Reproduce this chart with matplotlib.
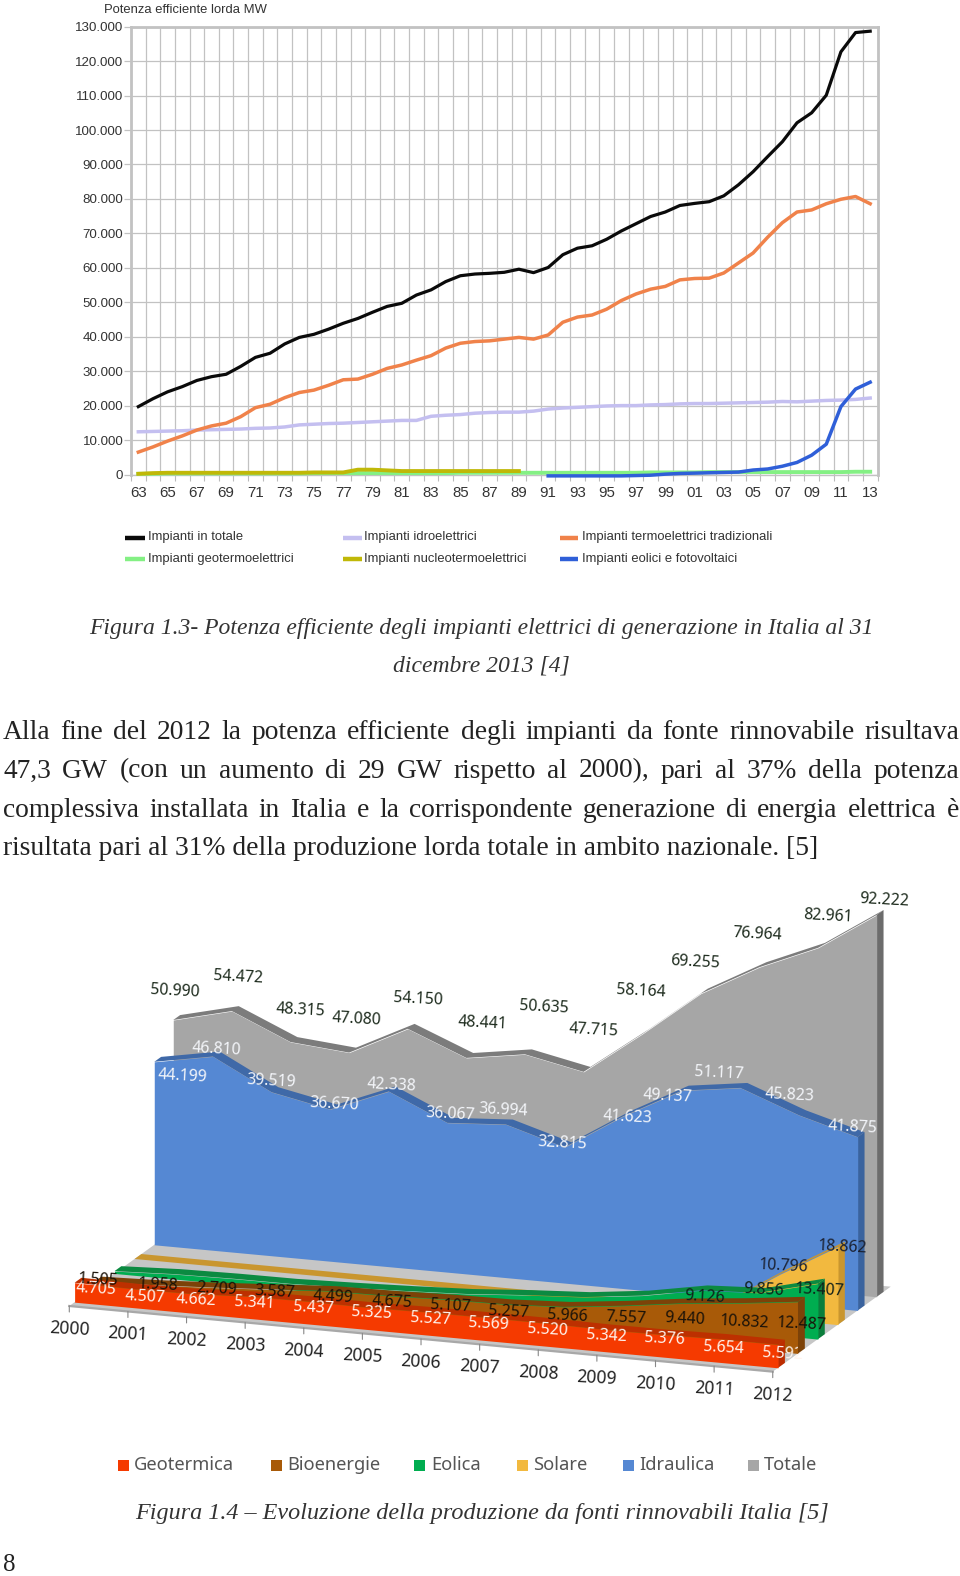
import numpy as np
import matplotlib
matplotlib.use("Agg")
import matplotlib.pyplot as plt
from matplotlib.ticker import FuncFormatter
from matplotlib.transforms import Affine2D

W, H = 960, 1576

# --- first chart: installed capacity, thousands of MW, 1963-2013
cap_years = [f"{y % 100:02d}" for y in range(1963, 2014)]
cap_total = [19.7, 22, 24, 25.5, 27.3, 28.4, 29.1, 31.4, 34, 35.2,
             37.9, 39.8, 40.7, 42.2, 43.9, 45.3, 47.1, 48.8, 49.7, 52.1,
             53.6, 56, 57.7, 58.2, 58.4, 58.7, 59.6, 58.6, 60.1, 63.8,
             65.7, 66.4, 68.3, 70.7, 72.8, 74.9, 76.2, 78.1, 78.7, 79.2,
             80.9, 84.1, 87.9, 92.3, 96.6, 102.1, 105, 110.1, 122.7, 128.3, 128.7]
cap_thermo = [6.5, 8, 9.7, 11.2, 12.9, 14.1, 14.9, 16.8, 19.4, 20.4,
              22.3, 23.8, 24.5, 25.9, 27.5, 27.7, 29.1, 30.8, 31.8, 33.2,
              34.5, 36.7, 38.1, 38.6, 38.8, 39.3, 39.8, 39.3, 40.5, 44.2,
              45.7, 46.3, 48, 50.5, 52.4, 53.8, 54.6, 56.5, 56.9, 57,
              58.5, 61.4, 64.3, 68.9, 73.1, 76.2, 76.8, 78.6, 79.9, 80.7, 78.6]
cap_hydro = [12.4, 12.5, 12.6, 12.7, 12.9, 13, 13.1, 13.2, 13.4, 13.5,
             13.8, 14.4, 14.6, 14.8, 14.9, 15.1, 15.3, 15.5, 15.7, 15.7,
             16.9, 17.2, 17.4, 17.8, 18, 18.1, 18.1, 18.4, 19, 19.3,
             19.5, 19.7, 19.9, 20, 20, 20.2, 20.3, 20.5, 20.6, 20.6,
             20.7, 20.8, 20.9, 21, 21.2, 21.1, 21.3, 21.5, 21.6, 21.8, 22.2]
cap_geo = [0.2, 0.2, 0.3, 0.3, 0.3, 0.3, 0.3, 0.3, 0.3, 0.3,
           0.3, 0.3, 0.4, 0.4, 0.4, 0.4, 0.4, 0.4, 0.4, 0.4,
           0.4, 0.4, 0.5, 0.5, 0.5, 0.5, 0.5, 0.5, 0.5, 0.5,
           0.5, 0.5, 0.5, 0.5, 0.5, 0.6, 0.6, 0.6, 0.6, 0.7,
           0.7, 0.7, 0.7, 0.7, 0.7, 0.7, 0.7, 0.7, 0.7, 0.8, 0.8]
cap_nuclear = [0.2, 0.4, 0.5, 0.5, 0.5, 0.5, 0.5, 0.5, 0.5, 0.5,
               0.5, 0.5, 0.6, 0.6, 0.6, 1.4, 1.4, 1.2, 1.0, 1.0,
               1.0, 1.0, 1.0, 1.0, 1.0, 1.0, 1.0] + [np.nan] * 24
cap_wind = [np.nan] * 28 + [-0.4, -0.4, -0.4, -0.4, -0.4, -0.4, -0.3, -0.2,
                            0.1, 0.3, 0.4, 0.5, 0.6, 0.7, 1.3, 1.6, 2.4, 3.5,
                            5.6, 8.8, 19.7, 24.8, 26.8]

# --- second chart: renewable production, thousands, 2000-2012
ren_years = list(range(2000, 2013))
ren_geo = [4.705, 4.507, 4.662, 5.341, 5.437, 5.325, 5.527, 5.569, 5.520, 5.342, 5.376, 5.654, 5.592]
ren_bio = [1.505, 1.958, 2.709, 3.587, 4.499, 4.675, 5.107, 5.257, 5.966, 7.557, 9.440, 10.832, 12.487]
ren_wind = [0.563, 1.179, 1.404, 1.458, 1.847, 2.343, 2.971, 4.034, 4.861, 6.543, 9.126, 9.856, 13.407]
ren_solar = [0.006, 0.005, 0.004, 0.005, 0.004, 0.004, 0.002, 0.039, 0.193, 0.676, 1.906, 10.796, 18.862]
ren_hydro = [44.199, 46.810, 39.519, 36.670, 42.338, 36.067, 36.994, 32.815, 41.623, 49.137, 51.117, 45.823, 41.875]
ren_total = [50.990, 54.472, 48.315, 47.080, 54.150, 48.441, 50.635, 47.715, 58.164, 69.255, 76.964, 82.961, 92.222]

# label nudges in pixels from each point (dx, dy down)
off_geo = [(22, 5), (12, 7), (4, 5), (4, 6), (4, 6), (4, 5), (4, 6), (3, 6), (4, 6), (4, 6), (4, 3), (4, 8), (4, 8)]
off_bio = [(4, -3), (5, -1), (5, 1), (4, 2), (4, 5), (4, 5), (4, 6), (4, 7), (4, 8), (4, 11), (4, 15), (5, 18), (4, 22)]
off_wind = [(0, 0)] * 10 + [(4, 6), (4, -4), (2, 6)]
off_solar = [(0, 0)] * 11 + [(4, -9), (4, 0)]
off_hydro = [(28, 13), (4, -8), (0, -12), (4, -6), (3, -7), (3, -10), (-3, -15), (-2, -5), (4, 0), (-14, 5), (-22, -16), (-9, -21), (-5, -11)]
off_total = [(2, -30), (6, -35), (10, -33), (7, -34), (10, -31), (16, -36), (19, -48), (10, -43), (-1, -44), (-6, -32), (-2, -34), (10, -33), (8, -16)]

body_lines = ["Alla fine del 2012 la potenza efficiente degli impianti da fonte rinnovabile risultava",
              "47,3 GW (con un aumento di 29 GW rispetto al 2000), pari al 37% della potenza",
              "complessiva installata in Italia e la corrispondente generazione di energia elettrica è"]
body_last = "risultata pari al 31% della produzione lorda totale in ambito nazionale. [5]"

fig = plt.figure(figsize=(W / 100, H / 100), dpi=100)

# whole page in pixel coordinates, y going down
page = fig.add_axes([0, 0, 1, 1])
page.set_xlim(0, W)
page.set_ylim(H, 0)
page.axis("off")

# --- line chart
left, right, top, bottom = 131, 877.5, 26.7, 474.5
ax = fig.add_axes([left / W, 1 - bottom / H, (right - left) / W, (bottom - top) / H])
ax.patch.set_alpha(0)
x = np.arange(len(cap_years))
ax.plot(x, cap_total, color="#0a0a0a", lw=2.3, zorder=5)
ax.plot(x, cap_hydro, color="#c4bff0", lw=2.5, zorder=3)
ax.plot(x, cap_thermo, color="#f0824a", lw=2.5, zorder=4)
ax.plot(x, cap_geo, color="#84f084", lw=2.8, zorder=3, clip_on=False)
ax.plot(x, cap_nuclear, color="#c0b808", lw=2.8, zorder=4, clip_on=False)
ax.plot(x, cap_wind, color="#2f5fd8", lw=2.5, zorder=6, clip_on=False)
ax.set_xlim(-0.5, 50.5)
ax.set_ylim(0, 130)
ax.set_yticks(range(0, 131, 10))
ax.yaxis.set_major_formatter(FuncFormatter(lambda v, p: "0" if v == 0 else f"{v:.3f}"))
ax.set_xticks(x[::2])
ax.set_xticklabels(cap_years[::2])
ax.set_xticks(np.arange(-0.5, 51, 1), minor=True)
ax.grid(which="minor", axis="x", color="#c2c2c2", lw=0.9)
ax.grid(which="major", axis="y", color="#c2c2c2", lw=0.9)
ax.set_axisbelow(True)
ax.tick_params(axis="x", which="major", length=0, pad=8.5, labelsize=10.8, labelcolor="#333333")
ax.tick_params(axis="x", which="minor", length=4, width=0.8, color="#bbbbbb")
ax.tick_params(axis="y", length=5, width=0.9, color="#c2c2c2", pad=0.5, labelsize=9.6, labelcolor="#333333")
for lab in ax.get_xticklabels() + ax.get_yticklabels():
    lab.set_fontfamily("Liberation Sans")
for name, sp in ax.spines.items():
    sp.set_color("#c2c2c2")
    sp.set_linewidth(2.0 if name != "bottom" else 1.0)

page.text(104, 9.5, "Potenza efficiente lorda MW", family="Liberation Sans", fontsize=9.4,
          color="#333333", va="center")

legend_rows = [(125, 145, 147.5, 537.5, "#0a0a0a", "Impianti in totale"),
               (343, 361.5, 364, 537.5, "#c4bff0", "Impianti idroelettrici"),
               (560, 578, 581.5, 537.5, "#f0824a", "Impianti termoelettrici tradizionali"),
               (125, 145, 147.5, 559, "#84f084", "Impianti geotermoelettrici"),
               (343, 361.5, 364, 559, "#c0b808", "Impianti nucleotermoelettrici"),
               (560, 578, 581.5, 559, "#2f5fd8", "Impianti eolici e fotovoltaici")]
for x0, x1, xt, y, col, name in legend_rows:
    page.plot([x0, x1], [y, y], color=col, lw=3.2, solid_capstyle="butt")
    page.text(xt, y - 0.5, name, family="Liberation Sans", fontsize=9.4, color="#333333", va="center")

# --- captions and body text
cap_style = dict(family="Liberation Serif", style="italic", color="#333333", ha="center", va="center")
page.text(481, 628, "Figura 1.3- Potenza efficiente degli impianti elettrici di generazione in Italia al 31",
          fontsize=17, **cap_style)
page.text(481, 666, "dicembre 2013 [4]", fontsize=17, **cap_style)
page.text(482, 1513, "Figura 1.4 – Evoluzione della produzione da fonti rinnovabili Italia [5]",
          fontsize=17.4, **cap_style)
page.text(3, 1565, "8", family="Liberation Serif", fontsize=18, color="#222222", va="center")

renderer = fig.canvas.get_renderer()
body_style = dict(family="Liberation Serif", fontsize=19.8, color="#222222", va="center")


def justified(line, y, x0=3, x1=959):
    words = [page.text(x0, y, w, **body_style) for w in line.split()]
    widths = [t.get_window_extent(renderer).width for t in words]
    gap = (x1 - x0 - sum(widths)) / (len(words) - 1)
    pos = x0
    for t, w in zip(words, widths):
        t.set_x(pos)
        pos += w + gap


for line, y in zip(body_lines, [732, 771, 810]):
    justified(line, y)
page.text(3, 848.5, body_last, **body_style)

# --- pseudo 3D area chart: every series gets its own affine map (year index, value) -> page pixels
YEAR_DX, YEAR_DY = 58.62, 5.47
DEPTH_DX, DEPTH_DY = 118, -85
VALUE_PX = 4.14
X0, Y0 = 69.3, 1306
SLAB = 0.058


def series_map(depth):
    return Affine2D.from_values(YEAR_DX, YEAR_DY, 0, -VALUE_PX,
                                X0 + DEPTH_DX * depth, Y0 + DEPTH_DY * depth)


k = np.array(ren_years) - ren_years[0]
fl = series_map(0) + page.transData

# floor
floor_x = [X0, X0 + YEAR_DX * 12, X0 + YEAR_DX * 12 + DEPTH_DX, X0 + DEPTH_DX]
floor_y = [Y0, Y0 + YEAR_DY * 12, Y0 + YEAR_DY * 12 + DEPTH_DY, Y0 + DEPTH_DY]
page.fill(floor_x, floor_y, color="#c6c6c6", lw=0, zorder=1)
page.plot(floor_x[:2], floor_y[:2], color="#a8a8a8", lw=1.6, zorder=1.1)

# back to front: values, depth on the floor, face, roof and side colours
series = [(ren_total, 0.881, "#a6a6a6", "#7c7c7c", "#6c6c6c"),
          (ren_hydro, 0.720, "#5588d3", "#3f69a8", "#3a639e"),
          (ren_solar, 0.553, "#f2b93f", "#c9962f", "#c9962f"),
          (ren_wind, 0.383, "#00ad50", "#0b8a41", "#0b7e3c"),
          (ren_bio, 0.214, "#a85a08", "#7c4208", "#7c4208"),
          (ren_geo, 0.045, "#f53a00", "#bd3000", "#bd2c00")]
for n, (vals, d, face, roof, side) in enumerate(series):
    z = 2 + n
    front = series_map(d)
    back = series_map(d + SLAB)
    profile = np.column_stack([k, vals])
    band = np.vstack([front.transform(profile), back.transform(profile)[::-1]])
    page.fill(band[:, 0], band[:, 1], color=roof, lw=0, zorder=z)
    page.fill_between(k, 0, vals, transform=front + page.transData, color=face, lw=0, zorder=z + 0.2)
    end = [(k[-1], 0), (k[-1], vals[-1])]
    cap = np.vstack([front.transform(end), back.transform(end)[::-1]])
    # the bioenergy side sits over the last geothermal label, as in the source
    page.fill(cap[:, 0], cap[:, 1], color=side, lw=0, zorder=9 if vals is ren_bio else z + 0.1)

# year ticks and labels on the front floor edge
for i, yr in zip(k, ren_years):
    page.annotate("", xy=(i, 0), xycoords=fl, xytext=(0, -6), textcoords="offset pixels",
                  arrowprops=dict(arrowstyle="-", color="#888888", lw=0.8, shrinkA=0, shrinkB=0))
    page.annotate(str(yr), xy=(i, 0), xycoords=fl, xytext=(0, -23), textcoords="offset pixels",
                  family="Noto Sans", fontsize=12.6, color="#222222", ha="center", va="center",
                  rotation=-3, zorder=12)


def labels(vals, depth, offs, color, zorder=12, first=0):
    tr = series_map(depth) + page.transData
    for i in range(first, len(vals)):
        dx, dy = offs[i]
        page.annotate(f"{vals[i]:.3f}", xy=(i, vals[i]), xycoords=tr, xytext=(dx, -dy - 1),
                      textcoords="offset pixels", family="Noto Sans", fontsize=11.4, color=color,
                      ha="center", va="center", rotation=-3, zorder=zorder)


labels(ren_total, 0.881, off_total, "#1c2a1c")
labels(ren_hydro, 0.720, off_hydro, "#f4f6fa")
labels(ren_bio, 0.214, off_bio, "#1a1208")
labels(ren_geo, 0.045, off_geo, "#fff4ee", zorder=8.5)
labels(ren_wind, 0.383, off_wind, "#10201a", first=10)
labels(ren_solar, 0.553, off_solar, "#1a2030", first=11)

# legend of the area chart
ren_legend = [(118, 134, "#f53a00", "Geotermica"), (271, 287, "#a85a08", "Bioenergie"),
              (414, 431, "#00ad50", "Eolica"), (517, 533, "#f2b93f", "Solare"),
              (623, 639, "#5588d3", "Idraulica"), (748, 764, "#a6a6a6", "Totale")]
for xs, xt, col, name in ren_legend:
    page.fill([xs, xs + 11, xs + 11, xs], [1460, 1460, 1471, 1471], color=col, lw=0)
    page.text(xt, 1465.5, name, family="Noto Sans", fontsize=13.2, color="#555555", va="center")

fig.savefig("out.png", dpi=100)
